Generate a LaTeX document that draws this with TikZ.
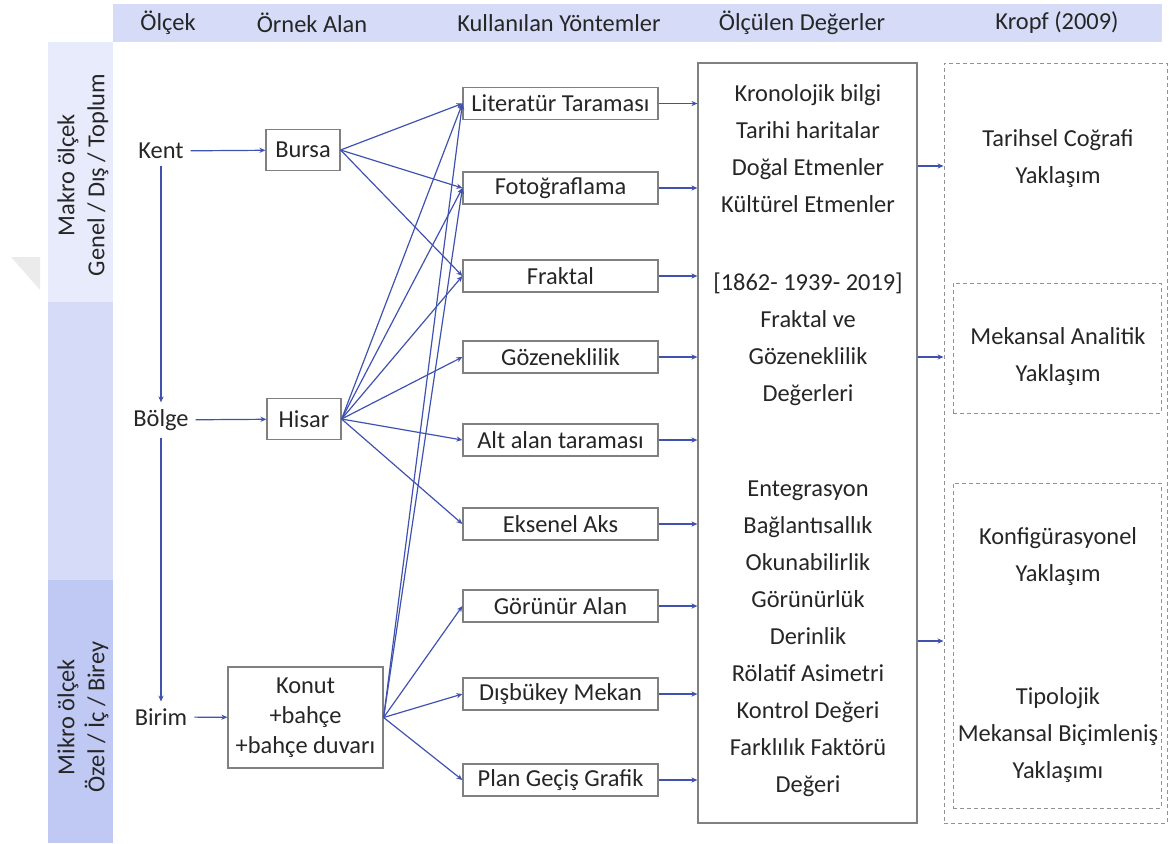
\documentclass[tikz,border=0pt]{standalone}
\usepackage{fontspec}
\setmainfont{Carlito}
\usepackage{tikz}
\usetikzlibrary{arrows.meta}
\usetikzlibrary{positioning}
\usetikzlibrary{calc}

\definecolor{barlight}{RGB}{232,235,251}
\definecolor{barmid}{RGB}{214,220,247}
\definecolor{bardark}{RGB}{192,201,243}
\definecolor{linkblue}{RGB}{64,82,176}
\definecolor{boxgray}{RGB}{128,128,128}
\definecolor{txt}{RGB}{38,38,38}

\tikzset{
  lbl/.style={text=txt},
  box/.style={draw=boxgray, line width=0.6pt, fill=white, inner sep=0pt, text=txt},
  mbox/.style={box, minimum width=97.5pt, minimum height=16pt},
  dbox/.style={draw=boxgray!85, line width=0.5pt, dash pattern=on 2pt off 1.5pt},
  link/.style={draw=linkblue, line width=0.6pt, -{Stealth[length=3pt,width=2.6pt]}},
}

\begin{document}
\begin{tikzpicture}[x=0.5pt,y=-0.5pt,font=\fontsize{12.2}{18.5}\selectfont]
  \useasboundingbox (0,0) rectangle (1171,843);
  \fill[barmid] (113,4) rectangle (1162,42);
  \fill[barlight] (48,42) rectangle (113,302);
  \fill[barmid] (48,302) rectangle (113,580);
  \fill[bardark] (48,580) rectangle (113,843);
  \fill[black!8] (11,257) -- (40,257) -- (40,290) -- cycle;

  \node[lbl] (hOlcek) at (168,23) {Ölçek};
  \node[lbl] (hOrnek) at (312,23) {Örnek Alan};
  \node[lbl] (hYontem) at (559,23) {Kullanılan Yöntemler};
  \node[lbl] (hDeger) at (802,23) {Ölçülen Değerler};
  \node[lbl] (hKropf) at (1057,23) {Kropf (2009)};

  \node[lbl, rotate=90, align=center, font=\fontsize{12.2}{15}\selectfont] (makro) at (83,175) {Makro ölçek\\Genel / Dış / Toplum};
  \node[lbl, rotate=90, align=center, font=\fontsize{12.2}{15}\selectfont] (mikro) at (83,717) {Mikro ölçek\\Özel / İç / Birey};

  \node[lbl] (kent) at (161,151) {Kent};
  \node[lbl] (bolge) at (161,420) {Bölge};
  \node[lbl] (birim) at (161,717) {Birim};

  \node[box, minimum width=37pt, minimum height=20.5pt] (bursa) at (303,150) {Bursa};
  \node[box, minimum width=37pt, minimum height=20.5pt] (hisar) at (304,419) {Hisar};
  \node[box, minimum width=77.5pt, minimum height=50.5pt, align=center, font=\fontsize{12.2}{15}\selectfont] (konut) at (305.5,717.5) {Konut\\+bahçe\\+bahçe duvarı};

  \foreach \nm/\yy/\tx in {lit/103.5/Literatür Taraması, foto/188/Fotoğraflama, frak/276/Fraktal,
      goz/357/Gözeneklilik, alt/440/Alt alan taraması, eks/524/Eksenel Aks,
      gor/606/Görünür Alan, disb/694/Dışbükey Mekan, plan/780/Plan Geçiş Grafik}
    \node[mbox] (\nm) at (560.5,\yy) {\tx};

  \node[box, minimum width=109.5pt, minimum height=380pt] (vals) at (807.5,443) {};
  \node[lbl, align=center] (vg1) at (808,149) {Kronolojik bilgi\\Tarihi haritalar\\Doğal Etmenler\\Kültürel Etmenler};
  \node[lbl, align=center] (vg2) at (808,339.5) {[1862- 1939- 2019]\\Fraktal ve\\Gözeneklilik\\Değerleri};
  \node[lbl, align=center] (vg3) at (808,638.5) {Entegrasyon\\Bağlantısallık\\Okunabilirlik\\Görünürlük\\Derinlik\\Rölatif Asimetri\\Kontrol Değeri\\Farklılık Faktörü\\Değeri};

  \node[dbox, minimum width=111.5pt, minimum height=380pt] (kropf) at (1055.5,443) {};
  \node[dbox, minimum width=104pt, minimum height=65pt] (mekan) at (1057,348) {};
  \node[dbox, minimum width=104pt, minimum height=162.5pt] (konfig) at (1057,645.5) {};
  \node[lbl, align=center] (tarih) at (1058,158.5) {Tarihsel Coğrafi\\Yaklaşım};
  \node[lbl, align=center] (analit) at (1058,357) {Mekansal Analitik\\Yaklaşım};
  \node[lbl, align=center] (konfy) at (1058,556.5) {Konfigürasyonel\\Yaklaşım};
  \node[lbl, align=center] (tipo) at (1058,735) {Tipolojik\\Mekansal Biçimleniş\\Yaklaşımı};

  \draw[link] (kent) -- (bolge);
  \draw[link] (bolge) -- (birim);
  \draw[link] (kent) -- (bursa);
  \draw[link] (bolge) -- (hisar);
  \draw[link] (birim) -- (konut);

  \foreach \m in {lit,foto,frak}
    \draw[link] (bursa.east) -- (\m.west);
  \foreach \m in {lit,foto,frak,goz,alt,eks}
    \draw[link] (hisar.east) -- (\m.west);
  \foreach \m in {lit,foto,gor,disb,plan}
    \draw[link] (konut.east) -- (\m.west);

  \foreach \m in {lit,foto,frak,goz,alt,eks,gor,disb,plan}
    \draw[link] (\m.east) -- (\m.east -| vals.west);

  \coordinate (k1) at (930,166);
  \coordinate (k2) at (930,357);
  \coordinate (k3) at (930,641);
  \foreach \k in {k1,k2,k3}
    \draw[link] (vals.east |- \k) -- (kropf.west |- \k);
\end{tikzpicture}
\end{document}
